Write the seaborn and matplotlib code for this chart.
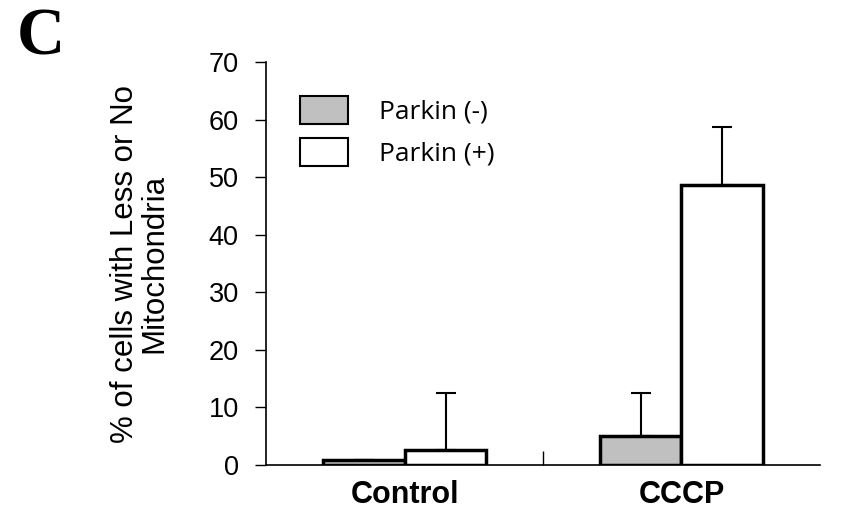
import pandas as pd
import seaborn as sns
import matplotlib.pyplot as plt
from matplotlib.patches import Patch

sns.set_style("white")
plt.rcParams['font.family'] = ['Liberation Sans', 'DejaVu Sans']
plt.rcParams['text.color'] = 'black'
plt.rcParams['axes.labelcolor'] = 'black'
plt.rcParams['xtick.color'] = 'black'
plt.rcParams['ytick.color'] = 'black'

# data
treatments = ["Control", "Control", "CCCP", "CCCP"]
groups = ["Parkin (-)", "Parkin (+)", "Parkin (-)", "Parkin (+)"]
values = [0.9, 2.6, 5.0, 48.7]
errors = [0.0, 9.9, 7.5, 10.0]

df = pd.DataFrame({"treatment": treatments, "group": groups, "value": values, "err": errors})
colors = {"Parkin (-)": "#C0C0C0", "Parkin (+)": "#FFFFFF"}

fig = plt.figure(figsize=(8.46, 5.19), dpi=100)
ax = fig.add_axes([0.315, 0.104, 0.654, 0.776])

sns.barplot(x="treatment", y="value", hue="group", data=df, palette=colors,
            order=["Control", "CCCP"], hue_order=["Parkin (-)", "Parkin (+)"],
            width=0.59, edgecolor="black", linewidth=2.5, errorbar=None, ax=ax)

# upward error bars
for cont, grp in zip(ax.containers, ["Parkin (-)", "Parkin (+)"]):
    sub = df[df["group"] == grp].set_index("treatment").loc[["Control", "CCCP"]]
    xs = [b.get_x() + b.get_width() / 2 for b in cont]
    ax.errorbar(xs, sub["value"], yerr=[[0] * len(sub), sub["err"]], fmt="none",
                ecolor="black", elinewidth=1.5, capsize=7, capthick=1.5, zorder=1)

ax.set_xlim(-0.5, 1.5)
ax.set_ylim(0, 70)
ax.set_yticks(range(0, 71, 10))
ax.tick_params(axis="y", direction="out", length=8, width=1, labelsize=19.5, left=True, pad=12)
ax.tick_params(axis="x", length=0, labelsize=22, pad=11)
ax.set_xticks([0.5], minor=True)
ax.tick_params(axis="x", which="minor", direction="in", length=10, width=1, bottom=True)
for lab in ax.get_xticklabels():
    lab.set_fontweight("bold")

for side in ["top", "right"]:
    ax.spines[side].set_visible(False)
for side in ["left", "bottom"]:
    ax.spines[side].set_color("black")
    ax.spines[side].set_linewidth(1.2)

ax.set_xlabel("")
ax.set_ylabel("% of cells with Less or No\nMitochondria", fontsize=22.5, labelpad=28, linespacing=1.0)

handles = [Patch(facecolor=colors[g], edgecolor="black", linewidth=1.5) for g in ["Parkin (-)", "Parkin (+)"]]
ax.legend(handles, ["Parkin (-)", "Parkin (+)"], loc="upper left", bbox_to_anchor=(0.017, 0.975),
          frameon=False, handlelength=1.85, handleheight=1.25, handletextpad=1.15, labelspacing=0.5,
          prop={"family": "Open Sans", "size": 19})

fig.text(0.02, 0.985, "C", fontsize=48, fontweight="bold", family="Liberation Serif", va="top")

fig.savefig("out.png", dpi=100)
